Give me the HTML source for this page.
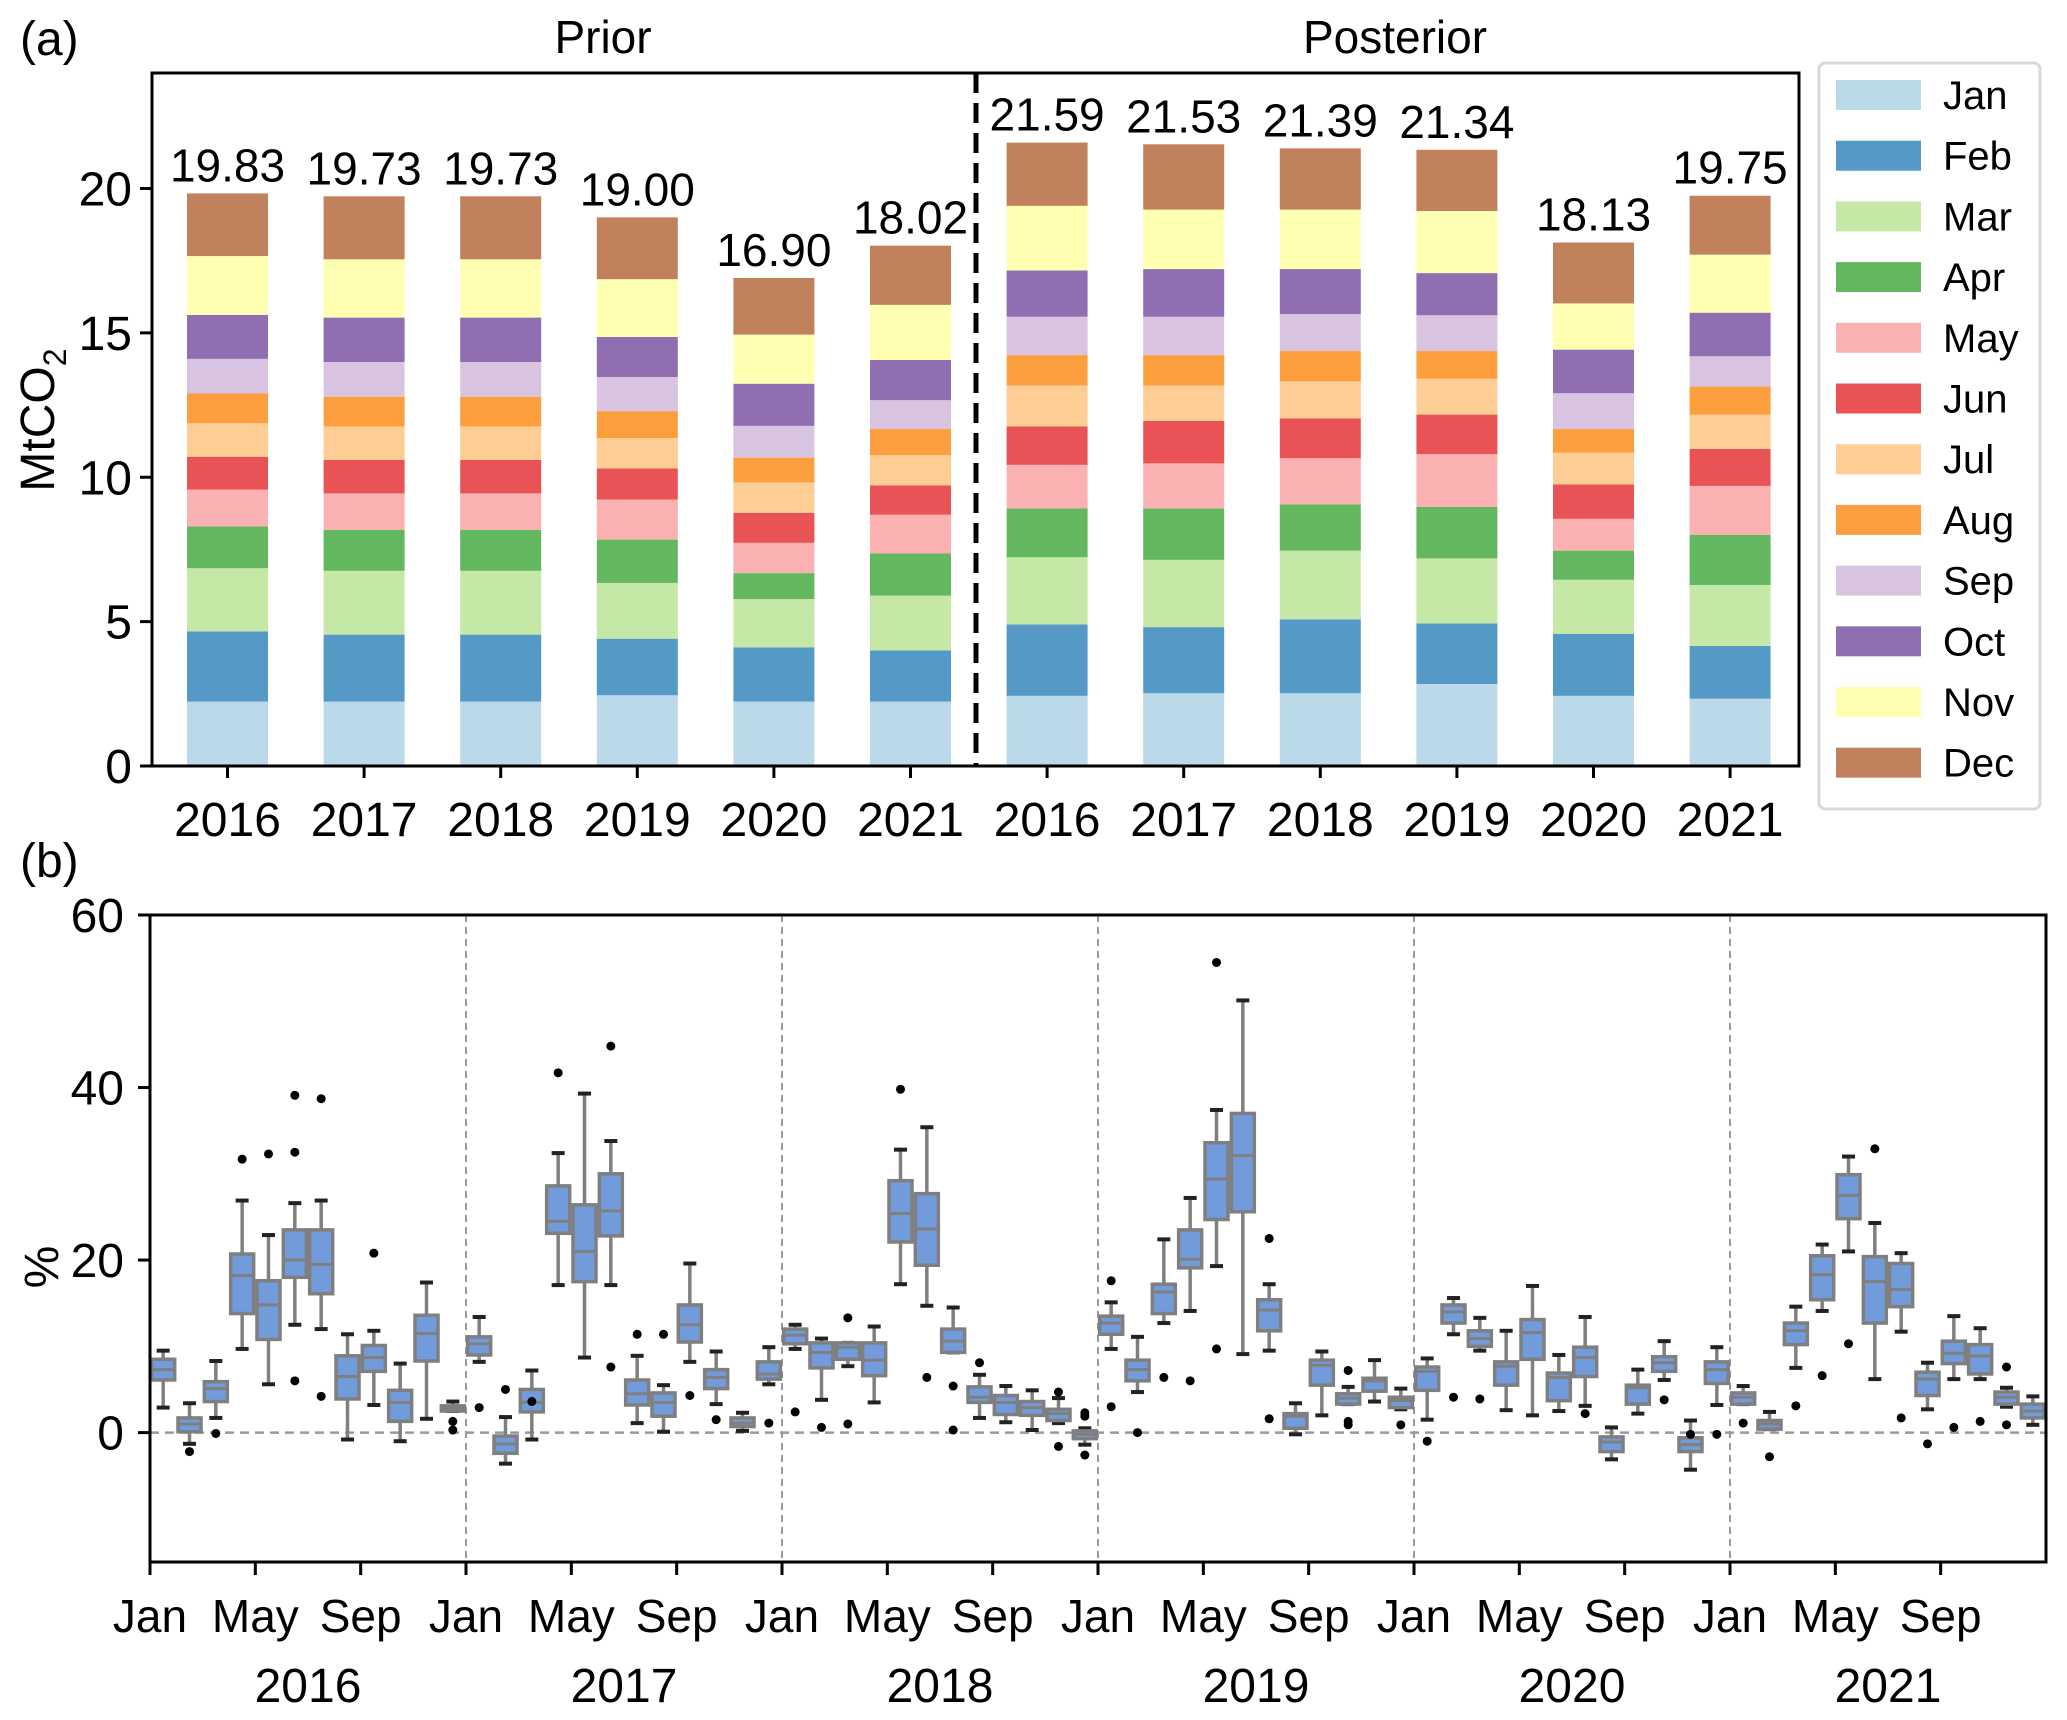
<!DOCTYPE html>
<html><head><meta charset="utf-8"><style>
html,body{margin:0;padding:0;background:#fff;}
svg{display:block;font-family:"Liberation Sans",Arial,sans-serif;}
</style></head><body>
<svg id="fig" width="2067" height="1720" viewBox="0 0 2067 1720" xmlns="http://www.w3.org/2000/svg">
<g id="topChart"></g>
<g id="legend"></g>
<g id="botChart"></g>
</svg>
<script>
// ---------- Panel (a) data ----------
const barCategories = ["2016","2017","2018","2019","2020","2021","2016","2017","2018","2019","2020","2021"];
const monthNames = ["Jan","Feb","Mar","Apr","May","Jun","Jul","Aug","Sep","Oct","Nov","Dec"];
const monthColors = ["#bcd9ea","#5599c7","#c6e8a6","#63b75f","#fbb1b1","#e95356","#fdcd93","#fd9e3e","#d8c4e0","#8f6eb2","#ffffb1","#c1815c"];
// cumulative tops of each month segment (MtCO2), one row per bar
const cumPrior2016 = [2.23,4.66,6.85,8.30,9.57,10.71,11.87,12.90,14.10,15.62,17.66,19.83];
const cumPrior2017 = [2.23,4.55,6.76,8.18,9.44,10.60,11.76,12.79,13.99,15.53,17.55,19.73];
const cumPrior2018 = [2.23,4.55,6.76,8.18,9.44,10.60,11.76,12.79,13.99,15.53,17.55,19.73];
const cumPrior2019 = [2.45,4.41,6.34,7.84,9.23,10.31,11.36,12.29,13.47,14.86,16.86,19.00];
const cumPrior2020 = [2.23,4.11,5.78,6.68,7.73,8.77,9.82,10.68,11.78,13.24,14.94,16.90];
const cumPrior2021 = [2.23,4.00,5.90,7.36,8.70,9.72,10.77,11.67,12.67,14.06,15.97,18.02];
const cumPost2016 = [2.43,4.90,7.23,8.92,10.43,11.76,13.18,14.23,15.56,17.16,19.40,21.59];
const cumPost2017 = [2.52,4.81,7.14,8.92,10.48,11.95,13.18,14.23,15.56,17.21,19.27,21.53];
const cumPost2018 = [2.52,5.08,7.46,9.06,10.66,12.04,13.32,14.37,15.65,17.21,19.27,21.39];
const cumPost2019 = [2.84,4.94,7.19,8.97,10.80,12.17,13.41,14.37,15.61,17.07,19.22,21.34];
const cumPost2020 = [2.43,4.58,6.45,7.46,8.56,9.75,10.85,11.67,12.91,14.42,16.02,18.13];
const cumPost2021 = [2.33,4.16,6.27,8.01,9.70,10.98,12.17,13.14,14.19,15.70,17.71,19.75];
const barTotalsLabels = ["19.83","19.73","19.73","19.00","16.90","18.02","21.59","21.53","21.39","21.34","18.13","19.75"];
const topYTicks = [0,5,10,15,20];

// ---------- Panel (b) data ----------
const boxLow = [2.9,-1.3,1.7,9.7,5.6,12.5,12.0,-0.8,3.2,-1.0,1.6,2.5, 8.2,-3.6,-0.8,17.1,8.7,17.1,1.1,0.1,8.2,3.3,0.2,5.6, 9.7,3.8,7.7,3.5,17.2,14.7,9.3,1.7,1.2,0.3,1.1,-1.4, 9.7,4.7,12.7,14.1,19.3,9.1,9.5,-0.2,2.0,3.3,3.6,2.7, 1.5,11.4,9.5,2.6,2.0,2.5,3.1,-3.1,2.2,6.1,-4.3,3.2, 3.3,0.4,7.5,14.1,21.0,6.2,11.7,2.7,6.2,6.2,3.0,0.9];
const boxQ1 = [6.1,0.1,3.6,13.8,10.8,18.0,16.1,3.9,7.1,1.3,8.3,2.5, 9.0,-2.4,2.4,23.1,17.5,22.8,3.2,1.9,10.5,5.1,0.7,6.2, 10.3,7.5,8.5,6.6,22.1,19.4,9.3,3.5,2.1,2.0,1.4,-0.7, 11.4,6.0,13.8,19.1,24.7,25.6,11.8,0.5,5.5,3.3,4.8,2.9, 4.9,12.7,10.0,5.5,8.5,3.7,6.5,-2.2,3.3,7.1,-2.2,5.7, 3.3,0.4,10.2,15.4,24.8,12.7,14.6,4.3,8.0,6.8,3.3,1.7];
const boxMed = [7.3,1.0,5.1,18.2,14.8,20.0,19.5,6.5,8.7,3.5,11.5,2.8, 10.3,-1.3,3.5,24.5,21.0,25.7,4.5,3.5,12.5,6.4,1.1,6.8, 11.3,9.3,9.9,8.4,25.4,23.6,10.6,4.1,3.5,2.9,2.2,-0.2, 12.7,7.3,16.3,20.1,29.4,32.1,14.2,1.9,7.8,4.0,6.0,3.7, 7.1,14.0,10.9,7.7,11.6,6.4,8.7,-1.1,5.2,8.1,-1.4,7.3, 4.1,1.0,11.8,18.3,27.5,17.5,16.6,6.2,9.2,8.9,4.1,2.5];
const boxQ3 = [8.5,1.7,5.9,20.7,17.6,23.5,23.5,8.9,10.1,4.9,13.6,3.1, 11.1,-0.4,5.0,28.6,26.4,30.0,6.1,4.6,14.8,7.3,1.7,8.2, 12.0,10.4,10.4,10.4,29.2,27.7,12.0,5.3,4.3,3.6,2.7,0.2, 13.5,8.4,17.2,23.5,33.6,37.0,15.4,2.2,8.4,4.5,6.3,4.1, 7.6,14.8,11.8,8.2,13.1,6.9,9.9,-0.5,5.5,8.8,-0.6,8.2, 4.6,1.4,12.7,20.5,29.9,20.4,19.6,7.0,10.6,10.2,4.7,3.3];
const boxHigh = [9.5,3.4,8.3,26.9,22.9,26.6,26.9,11.4,11.8,8.0,17.4,3.6, 13.4,1.8,7.2,32.4,39.3,33.8,8.9,5.5,19.6,9.4,2.3,9.9, 12.5,10.9,10.4,12.3,32.8,35.4,14.5,6.7,5.4,4.9,4.0,0.5, 15.1,11.1,22.4,27.2,37.4,50.1,17.2,3.4,9.4,5.3,8.4,5.1, 8.6,15.6,13.3,11.8,17.0,9.0,13.4,0.6,7.3,10.6,1.4,9.9, 5.4,2.4,14.6,21.8,32.0,24.3,20.8,8.1,13.5,12.1,5.2,4.2];
const outlierIdx = [1,2,3,4,5,5,5,6,6,8,11,11, 12,13,14,15,17,17,18,19,20,21,23, 24,25,26,26,28,29,30,30,31,34,34,35,35,35, 36,36,37,38,39,40,40,42,42,45,45,45,47, 48,49,50,54,57,58,59, 60,61,62,63,64,65,66,67,68,69,70,70];
const outlierVal = [-2.2,-0.1,31.7,32.3,39.1,32.5,6.0,38.7,4.2,20.8,1.3,0.3, 2.9,5.0,3.6,41.7,44.8,7.6,11.4,11.4,4.3,1.5,1.1, 2.4,0.6,13.3,1.0,39.8,6.4,5.4,0.3,8.1,4.7,-1.6,2.3,1.9,-2.6, 17.6,3.0,0.0,6.4,6.0,54.5,9.7,22.5,1.6,7.2,1.3,0.9,0.9, -1.0,4.1,3.9,2.2,3.8,-0.2,-0.2, 1.1,-2.8,3.1,6.6,10.3,32.9,1.7,-1.3,0.6,1.3,7.6,0.9];
const botYTicks = [0,20,40,60];
const botMonthTicks = ["Jan","May","Sep"];
const botYears = ["2016","2017","2018","2019","2020","2021"];

const NS = "http://www.w3.org/2000/svg";
function mk(parent, tag, attrs, text){
  const e = document.createElementNS(NS, tag);
  for (const k in attrs) e.setAttribute(k, attrs[k]);
  if (text !== undefined) e.textContent = text;
  parent.appendChild(e);
  return e;
}

// ---------- Panel (a) ----------
const topG = document.getElementById('topChart');
const A = {l:152, r:1799, t:73, b:766, ymax:24};
const ay = v => A.b - v/A.ymax*(A.b-A.t);
const ax = i => 227.5 + i*136.6;
const cums = [cumPrior2016,cumPrior2017,cumPrior2018,cumPrior2019,cumPrior2020,cumPrior2021,cumPost2016,cumPost2017,cumPost2018,cumPost2019,cumPost2020,cumPost2021];
const BW = 81;
cums.forEach((c, i) => {
  const g = mk(topG, 'g', {});
  
  
  let prev = 0;
  c.forEach((v, m) => {
    const r = mk(g, 'rect', {x: ax(i)-BW/2, y: ay(v), width: BW, height: Math.max(0, ay(prev)-ay(v)), fill: monthColors[m]});
    
    
    prev = v;
  });
  const t = mk(topG, 'text', {x: ax(i), y: ay(c[c.length-1]) - 12, 'font-size': 46, 'text-anchor': 'middle'}, barTotalsLabels[i]);
  
  
});
const fa = mk(topG, 'rect', {x: A.l, y: A.t, width: A.r-A.l, height: A.b-A.t, fill: 'none', stroke: '#000', 'stroke-width': 3});


const dl = mk(topG, 'line', {x1: 976, x2: 976, y1: A.t, y2: A.b, stroke: '#000', 'stroke-width': 5, 'stroke-dasharray': '20 10'});


topYTicks.forEach(v => {
  mk(topG, 'line', {x1: A.l-12, x2: A.l, y1: ay(v), y2: ay(v), stroke: '#000', 'stroke-width': 3});
  const t = mk(topG, 'text', {x: A.l-20, y: ay(v)+17, 'font-size': 48, 'text-anchor': 'end'}, String(v));
  
  
});
barCategories.forEach((c, i) => {
  mk(topG, 'line', {x1: ax(i), x2: ax(i), y1: A.b, y2: A.b+12, stroke: '#000', 'stroke-width': 3});
  const t = mk(topG, 'text', {x: ax(i), y: A.b+70, 'font-size': 48, 'text-anchor': 'middle'}, c);
  
  
});
mk(topG, 'text', {x: 20, y: 55, 'font-size': 48,  }, '(a)');
mk(topG, 'text', {x: 603, y: 53, 'font-size': 46, 'text-anchor': 'middle',  }, 'Prior');
mk(topG, 'text', {x: 1395, y: 53, 'font-size': 46, 'text-anchor': 'middle',  }, 'Posterior');
const yl = mk(topG, 'text', {x: 0, y: 0, 'font-size': 48, 'text-anchor': 'middle', transform: 'translate(54,420) rotate(-90)',  });
yl.appendChild(document.createTextNode('MtCO'));
mk(yl, 'tspan', {'font-size': 32, dy: 12}, '2');

// legend
const lg = document.getElementById('legend');
mk(lg, 'rect', {x: 1819, y: 63, width: 221, height: 746, rx: 6, fill: '#fff', stroke: '#d9d9d9', 'stroke-width': 3});
monthNames.forEach((n, m) => {
  const g = mk(lg, 'g', {});
  
  
  const yy = 80 + m*60.7;
  mk(g, 'rect', {x: 1836, y: yy, width: 85, height: 30, fill: monthColors[m]});
  mk(g, 'text', {x: 1943, y: yy+29, 'font-size': 40}, n);
});

// ---------- Panel (b) ----------
const botG = document.getElementById('botChart');
const B = {l:150, r:2046, t:915, b:1562, ymin:-15, ymax:60};
const by = v => B.b - (v-B.ymin)/(B.ymax-B.ymin)*(B.b-B.t);
const MW = (B.r-B.l)/72;
const bx = i => B.l + (i+0.5)*MW;
for (let k=1;k<6;k++){
  const x = B.l + k*12*MW;
  mk(botG, 'line', {x1:x, x2:x, y1:B.t, y2:B.b, stroke:'#999', 'stroke-width':2, 'stroke-dasharray':'7 5'});
}
mk(botG, 'line', {x1:B.l, x2:B.r, y1:by(0), y2:by(0), stroke:'#999', 'stroke-width':2.5, 'stroke-dasharray':'9 6',  });
const BXW = 23, CAP = 13;
boxMed.forEach((med, i) => {
  const g = mk(botG, 'g', {});
  
  
  const x = bx(i);
  mk(g, 'line', {x1:x, x2:x, y1:by(boxHigh[i]), y2:by(boxQ3[i]), stroke:'#7f7f7f', 'stroke-width':3.5});
  mk(g, 'line', {x1:x, x2:x, y1:by(boxQ1[i]), y2:by(boxLow[i]), stroke:'#7f7f7f', 'stroke-width':3.5});
  mk(g, 'line', {x1:x-CAP/2, x2:x+CAP/2, y1:by(boxHigh[i]), y2:by(boxHigh[i]), stroke:'#222', 'stroke-width':4});
  mk(g, 'line', {x1:x-CAP/2, x2:x+CAP/2, y1:by(boxLow[i]), y2:by(boxLow[i]), stroke:'#222', 'stroke-width':4});
  mk(g, 'rect', {x:x-BXW/2, y:by(boxQ3[i]), width:BXW, height:Math.max(1, by(boxQ1[i])-by(boxQ3[i])), fill:'#729bdc', stroke:'#7f7f7f', 'stroke-width':3.5});
  mk(g, 'line', {x1:x-BXW/2, x2:x+BXW/2, y1:by(med), y2:by(med), stroke:'#7f7f7f', 'stroke-width':3});
});
outlierIdx.forEach((i, k) => {
  const c = mk(botG, 'circle', {cx: bx(i), cy: by(outlierVal[k]), r: 4.5, fill: '#000'});
  
  
});
const fb = mk(botG, 'rect', {x:B.l, y:B.t, width:B.r-B.l, height:B.b-B.t, fill:'none', stroke:'#000', 'stroke-width':3});


botYTicks.forEach(v => {
  mk(botG, 'line', {x1:B.l-12, x2:B.l, y1:by(v), y2:by(v), stroke:'#000', 'stroke-width':3});
  const t = mk(botG, 'text', {x:B.l-26, y:by(v)+17, 'font-size':48, 'text-anchor':'end'}, String(v));
  
  
});
botYears.forEach((yr, k) => {
  botMonthTicks.forEach((mn, j) => {
    const x = B.l + (k*12 + j*4)*MW;
    mk(botG, 'line', {x1:x, x2:x, y1:B.b, y2:B.b+13, stroke:'#000', 'stroke-width':3});
    const t = mk(botG, 'text', {x:x, y:1632, 'font-size':46, 'text-anchor':'middle'}, mn);
    
    
  });
  const t = mk(botG, 'text', {x: B.l + (k*12+6)*MW, y:1702, 'font-size':48, 'text-anchor':'middle'}, yr);
  
  
});
mk(botG, 'text', {x: 20, y: 877, 'font-size': 48,  }, '(b)');
mk(botG, 'text', {x: 0, y: 0, 'font-size': 48, 'text-anchor': 'middle', transform: 'translate(58,1267) rotate(-90)',  }, '%');
</script>
</body></html>
